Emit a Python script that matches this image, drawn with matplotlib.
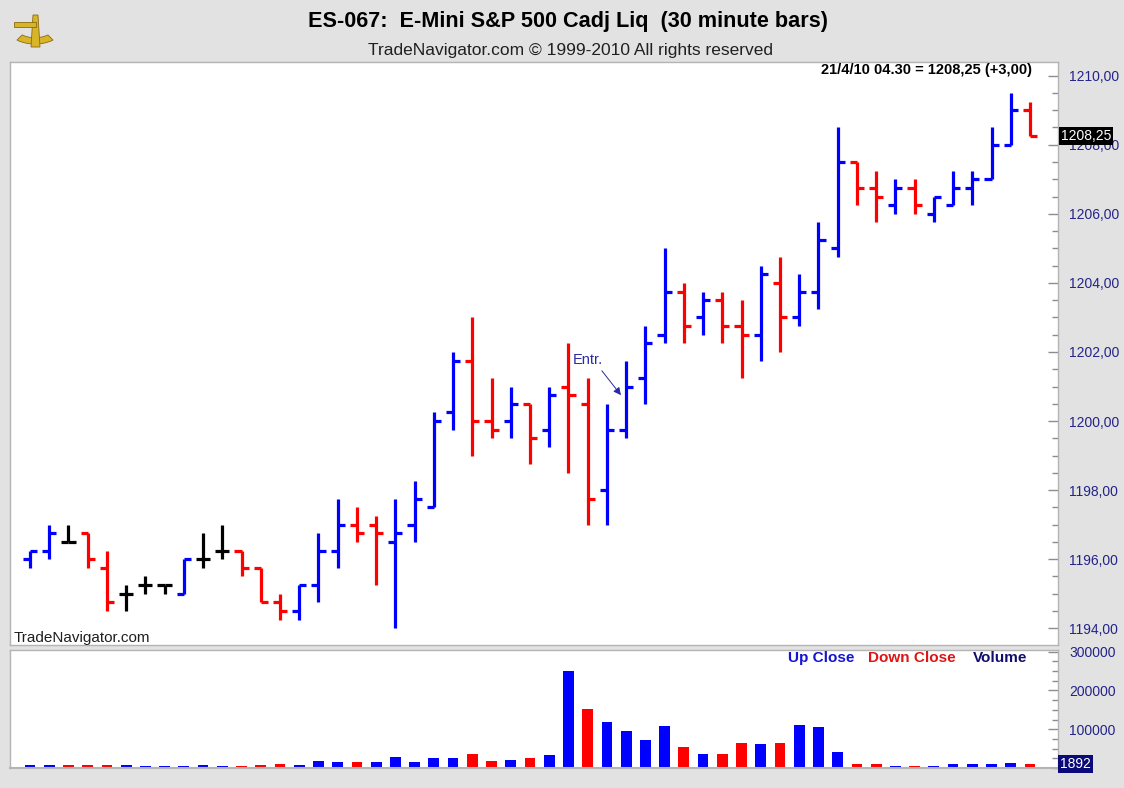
import numpy as np
import matplotlib
matplotlib.use("Agg")
import matplotlib.pyplot as plt
from matplotlib.ticker import MultipleLocator, FixedLocator, FuncFormatter
from matplotlib.transforms import blended_transform_factory
from matplotlib.patches import Wedge, Rectangle, Polygon

plt.rcParams['font.family'] = ['Liberation Sans', 'DejaVu Sans']

# ---------------- data ----------------
opens = [1196.0, 1196.25, 1196.5, 1196.75, 1195.75, 1195.0, 1195.25, 1195.25, 1195.0, 1196.0,
         1196.25, 1196.25, 1195.75, 1194.75, 1194.5, 1195.25, 1196.25, 1197.0, 1197.0, 1196.5,
         1197.0, 1197.5, 1200.25, 1201.75, 1200.0, 1200.0, 1200.5, 1199.75, 1201.0, 1200.5,
         1198.0, 1199.75, 1201.25, 1202.5, 1203.75, 1203.0, 1203.5, 1202.75, 1202.5, 1204.0,
         1203.0, 1203.75, 1205.0, 1207.5, 1206.75, 1206.25, 1206.75, 1206.0, 1206.25, 1206.75,
         1207.0, 1208.0, 1209.0]
highs = [1196.25, 1197.0, 1197.0, 1196.75, 1196.25, 1195.25, 1195.5, 1195.25, 1196.0, 1196.75,
         1197.0, 1196.25, 1195.75, 1195.0, 1195.25, 1196.75, 1197.75, 1197.5, 1197.25, 1197.75,
         1198.25, 1200.25, 1202.0, 1203.0, 1201.25, 1201.0, 1200.5, 1201.0, 1202.25, 1201.25,
         1200.5, 1201.75, 1202.75, 1205.0, 1204.0, 1203.75, 1203.75, 1203.5, 1204.5, 1204.75,
         1204.25, 1205.75, 1208.5, 1207.5, 1207.25, 1207.0, 1207.0, 1206.5, 1207.25, 1207.25,
         1208.5, 1209.5, 1209.25]
lows = [1195.75, 1196.0, 1196.5, 1195.75, 1194.5, 1194.5, 1195.0, 1195.0, 1195.0, 1195.75,
        1196.0, 1195.5, 1194.75, 1194.25, 1194.25, 1194.75, 1195.75, 1196.5, 1195.25, 1194.0,
        1196.5, 1197.5, 1199.75, 1199.0, 1199.5, 1199.5, 1198.75, 1199.25, 1198.5, 1197.0,
        1197.0, 1199.5, 1200.5, 1202.25, 1202.25, 1202.5, 1202.25, 1201.25, 1201.75, 1202.0,
        1202.75, 1203.25, 1204.75, 1206.25, 1205.75, 1206.0, 1206.0, 1205.75, 1206.25, 1206.25,
        1207.0, 1208.0, 1208.25]
closes = [1196.25, 1196.75, 1196.5, 1196.0, 1194.75, 1195.0, 1195.25, 1195.25, 1196.0, 1196.0,
          1196.25, 1195.75, 1194.75, 1194.5, 1195.25, 1196.25, 1197.0, 1196.75, 1196.75, 1196.75,
          1197.75, 1200.0, 1201.75, 1200.0, 1199.75, 1200.5, 1199.5, 1200.75, 1200.75, 1197.75,
          1199.75, 1201.0, 1202.25, 1203.75, 1202.75, 1203.5, 1202.75, 1202.5, 1204.25, 1203.0,
          1203.75, 1205.25, 1207.5, 1206.75, 1206.5, 1206.75, 1206.25, 1206.5, 1206.75, 1207.0,
          1208.0, 1209.0, 1208.25]
volumes = [7800, 7800, 7800, 7800, 7800, 7800, 4300, 4300, 4300, 7800,
           4300, 4300, 7800, 11200, 7800, 18000, 14700, 14700, 14700, 28400,
           14700, 25000, 25000, 35300, 18000, 21500, 25000, 33000, 250000, 151000,
           119000, 95000, 73000, 108000, 55000, 37000, 37000, 65500, 62000, 65500,
           112000, 105000, 40500, 9500, 9500, 6000, 6000, 6000, 9500, 9500,
           9500, 13000, 9500]
last_volume = 1892
last_stamp = "21/4/10 04.30"
last_change = 3.00
entry_bar = 31
entry_price = 1200.75

title = "ES-067:  E-Mini S&P 500 Cadj Liq  (30 minute bars)"
subtitle = "TradeNavigator.com \u00a9 1999-2010 All rights reserved"

# ---------------- figure ----------------
W, H = 1124, 788
fig = plt.figure(figsize=(W / 100, H / 100), dpi=100)
fig.patch.set_facecolor('#e2e2e2')


def box(x0, y0, x1, y1):
    return [x0 / W, 1 - y1 / H, (x1 - x0) / W, (y1 - y0) / H]


BLUE = '#0000ff'
RED = '#ff0000'
NAVY = '#23238a'
SPINE = '#b4b4b4'

n = len(closes)
x = np.arange(n)
o = np.array(opens); h = np.array(highs); l = np.array(lows); c = np.array(closes)
bar_cols = [BLUE if cc > oo else (RED if cc < oo else 'black') for oo, cc in zip(o, c)]
prev = np.concatenate([[c[0]], c[:-1]])
vol_cols = [BLUE if cc >= pp else RED for cc, pp in zip(c, prev)]

xlim = ((10 - 30) / 19.23, (1058 - 30) / 19.23)

# price panel
ax = fig.add_axes(box(10, 62, 1058, 645))
ax.set_facecolor('white')
ax.set_xlim(*xlim)
ax.set_ylim(1193.516, 1210.395)
lw = 2.3
tick = 0.37
ax.vlines(x, l, h, colors=bar_cols, lw=lw)
ax.hlines(o, x - tick, x, colors=bar_cols, lw=lw)
ax.hlines(c, x, x + tick, colors=bar_cols, lw=lw)

ax.yaxis.tick_right()
ax.yaxis.set_major_locator(MultipleLocator(2))
ax.yaxis.set_minor_locator(MultipleLocator(0.5))
ax.yaxis.set_major_formatter(FuncFormatter(lambda v, p: f"{v:.2f}".replace('.', ',')))
ax.tick_params(axis='y', which='major', direction='in', length=7, width=1,
               color='#8c8c8c', labelcolor=NAVY, labelsize=10, pad=8)
ax.tick_params(axis='y', which='minor', direction='in', length=4, width=1, color='#8c8c8c')
ax.tick_params(axis='x', which='both', bottom=False, labelbottom=False)
for s in ax.spines.values():
    s.set_color(SPINE)
    s.set_linewidth(1)

# last price marker
tr = blended_transform_factory(ax.transAxes, ax.transData)
ax.text(1.003, c[-1], f"{c[-1]:.2f}".replace('.', ','), transform=tr, ha='left', va='center',
        color='white', fontsize=10, bbox=dict(facecolor='black', edgecolor='none', pad=1.2),
        clip_on=False, zorder=10)

# entry annotation
ax.annotate('Entr.', xy=(entry_bar - 0.27, entry_price), xytext=(entry_bar - 2.75, entry_price + 1.02),
            ha='left', va='center', color='#2a2aa6', fontsize=10.5,
            arrowprops=dict(arrowstyle='-|>', color='#2a2aa6', lw=0.7, mutation_scale=11,
                            relpos=(0.85, 0.0), shrinkA=1, shrinkB=0))

# volume panel
axv = fig.add_axes(box(10, 650, 1058, 768))
axv.set_facecolor('white')
axv.set_xlim(*xlim)
axv.set_ylim(0, 304400)
axv.bar(x, volumes, width=0.56, color=vol_cols, edgecolor='none')
axv.yaxis.tick_right()
axv.yaxis.set_major_locator(FixedLocator([100000, 200000, 300000]))
axv.yaxis.set_minor_locator(MultipleLocator(25000))
axv.yaxis.set_major_formatter(FuncFormatter(lambda v, p: f"{int(v)}"))
axv.tick_params(axis='y', which='major', direction='in', length=7, width=1,
                color='#8c8c8c', labelcolor=NAVY, labelsize=10, pad=8)
axv.tick_params(axis='y', which='minor', direction='in', length=4, width=1, color='#8c8c8c')
axv.tick_params(axis='x', which='both', bottom=False, labelbottom=False)
for s in axv.spines.values():
    s.set_color(SPINE)
    s.set_linewidth(1)
axv.spines['bottom'].set_linewidth(1.5)

fig.text(1060 / W, 1 - 764 / H, f"{last_volume}", ha='left', va='center', color='white',
         fontsize=10, bbox=dict(facecolor='#0a0a78', edgecolor='none', pad=1.2))

# legend texts
fig.text(788 / W, 1 - 658 / H, "Up Close", color='#1414d2', fontsize=11, fontweight='bold',
         ha='left', va='center')
fig.text(868 / W, 1 - 658 / H, "Down Close", color='#e11414', fontsize=11, fontweight='bold',
         ha='left', va='center')
fig.text(973 / W, 1 - 658 / H, "Volume", color='#0f0f6e', fontsize=11, fontweight='bold',
         ha='left', va='center')

# titles
fig.text(568 / W, 1 - 22 / H, title, ha='center', va='center', fontsize=15.6, fontweight='bold')
fig.text(570 / W, 1 - 50 / H, subtitle, ha='center', va='center', fontsize=12.5, color='#202020')
fig.text(1032 / W, 1 - 70 / H,
         f"{last_stamp} = {c[-1]:.2f} (+{last_change:.2f})".replace('.', ',').replace('04,30', '04.30'),
         ha='right', va='center', fontsize=10.5, fontweight='bold')
fig.text(14 / W, 1 - 638 / H, "TradeNavigator.com", ha='left', va='center', fontsize=11,
         color='#202020')

# simple logo (sextant-like)
fx = lambda px_: px_ / W
fy = lambda py_: 1 - py_ / H
logo_col = '#d8b428'
logo_edge = '#8a6a12'
fig.patches.append(Wedge((fx(35), fy(22)), 0.028, 235, 305, width=0.008,
                         transform=fig.transFigure, facecolor=logo_col, edgecolor=logo_edge, lw=0.6))
fig.patches.append(Polygon([(fx(33), fy(15)), (fx(38), fy(15)), (fx(40), fy(47)), (fx(31), fy(47))],
                           closed=True, transform=fig.transFigure, facecolor=logo_col,
                           edgecolor=logo_edge, lw=0.6))
fig.patches.append(Rectangle((fx(14), fy(27)), fx(22) - fx(0), fy(22) - fy(27),
                             transform=fig.transFigure, facecolor=logo_col, edgecolor=logo_edge, lw=0.6))

fig.savefig('out.png', dpi=100, facecolor=fig.get_facecolor())
